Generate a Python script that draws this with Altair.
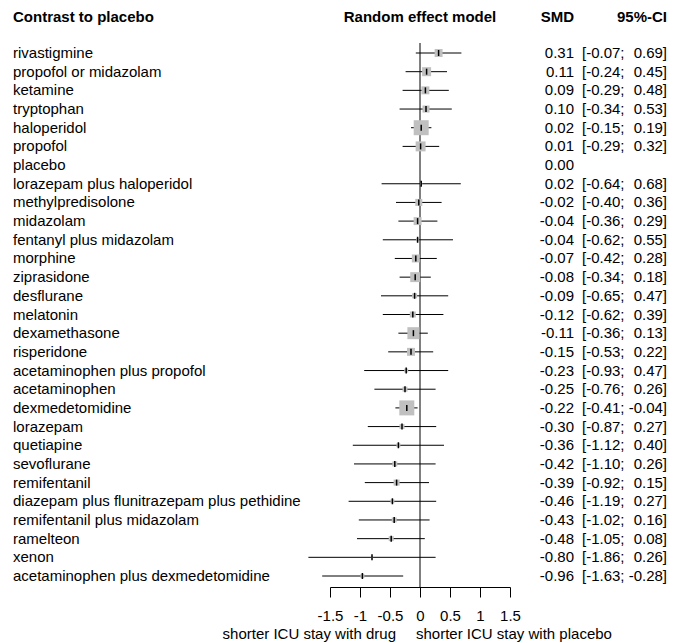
import altair as alt
import pandas as pd

labels = ["rivastigmine", "propofol or midazolam", "ketamine", "tryptophan", "haloperidol",
          "propofol", "placebo", "lorazepam plus haloperidol", "methylpredisolone", "midazolam",
          "fentanyl plus midazolam", "morphine", "ziprasidone", "desflurane", "melatonin",
          "dexamethasone", "risperidone", "acetaminophen plus propofol", "acetaminophen",
          "dexmedetomidine", "lorazepam", "quetiapine", "sevoflurane", "remifentanil",
          "diazepam plus flunitrazepam plus pethidine", "remifentanil plus midazolam",
          "ramelteon", "xenon", "acetaminophen plus dexmedetomidine"]
smd = [0.31, 0.11, 0.09, 0.10, 0.02, 0.01, 0.00, 0.02, -0.02, -0.04, -0.04, -0.07, -0.08, -0.09,
       -0.12, -0.11, -0.15, -0.23, -0.25, -0.22, -0.30, -0.36, -0.42, -0.39, -0.46, -0.43, -0.48,
       -0.80, -0.96]
lo = [-0.07, -0.24, -0.29, -0.34, -0.15, -0.29, None, -0.64, -0.40, -0.36, -0.62, -0.42, -0.34,
      -0.65, -0.62, -0.36, -0.53, -0.93, -0.76, -0.41, -0.87, -1.12, -1.10, -0.92, -1.19, -1.02,
      -1.05, -1.86, -1.63]
hi = [0.69, 0.45, 0.48, 0.53, 0.19, 0.32, None, 0.68, 0.36, 0.29, 0.55, 0.28, 0.18, 0.47, 0.39,
      0.13, 0.22, 0.47, 0.26, -0.04, 0.27, 0.40, 0.26, 0.15, 0.27, 0.16, 0.08, 0.26, -0.28]
# relative weight (square area), haloperidol = 100
weight = [28, 36, 28, 22, 100, 44, 0, 2, 22, 28, 4, 28, 44, 11, 16, 64, 28, 7, 11, 100, 11, 7,
          11, 16, 7, 11, 11, 2, 7]
tick_values = [-1.5, -1, -0.5, 0, 0.5, 1, 1.5]
headers = ["Contrast to placebo", "Random effect model", "SMD", "95%-CI"]
bottom_titles = ["shorter ICU stay with drug", "shorter ICU stay with placebo"]

df = pd.DataFrame({"row": list(range(len(labels))), "label": labels, "smd": smd,
                   "lo": lo, "hi": hi, "weight": weight})
df["smd_txt"] = [f"{v:.2f}" for v in smd]
df["lo_txt"] = [f"[{v:.2f};" if v is not None else "" for v in lo]
df["hi_txt"] = [f"{v:.2f}]" if v is not None else "" for v in hi]
dci = df[df["lo"].notna()].copy()

FONT = "Liberation Sans"
FS = 15

xs = alt.Scale(domain=[-1.5, 1.5], range=[322, 502])
ys = alt.Scale(domain=[0, 28], range=[45, 568])
ax = alt.Axis(values=tick_values, title=None, grid=False, domainColor="black", tickColor="black",
              tickSize=10, labelFontSize=FS, labelFont=FONT, labelColor="black", labelPadding=11,
              labelExpr="'' + datum.value", labelFlush=False, labelOverlap=False)
Y = alt.Y("row:Q", scale=ys, axis=None)

zero = alt.Chart(pd.DataFrame({"x": [0]})).mark_rule(color="black", strokeWidth=1).encode(
    x=alt.X("x:Q", scale=xs, axis=ax), y=alt.value(35), y2=alt.value(579))

ci = alt.Chart(dci).mark_rule(color="black", strokeWidth=1).encode(
    x=alt.X("lo:Q", scale=xs, axis=ax), x2="hi:Q", y=Y)

sq = alt.Chart(dci).mark_square(color="#c0c0c0", opacity=1, filled=True).encode(
    x=alt.X("smd:Q", scale=xs, axis=ax), y=Y,
    size=alt.Size("weight:Q", scale=alt.Scale(domain=[0, 100], range=[0, 225]), legend=None))

tk = alt.Chart(dci).mark_tick(orient="vertical", size=6, thickness=1.5, color="black", opacity=1).encode(
    x=alt.X("smd:Q", scale=xs, axis=ax), y=Y)

def txt(data, field, xpx, align, bold=False, y=None):
    return alt.Chart(data).mark_text(align=align, baseline="middle", font=FONT, fontSize=FS,
                                     color="black", fontWeight="bold" if bold else "normal").encode(
        text=f"{field}:N", x=alt.value(xpx), y=y if y is not None else Y)

lab = txt(df, "label", 5, "left")
smdt = txt(df, "smd_txt", 566, "right")
lot = txt(df, "lo_txt", 574, "left")
hit = txt(df, "hi_txt", 659, "right")

h1 = txt(pd.DataFrame({"t": [headers[0]]}), "t", 5, "left", True, alt.value(9))
h2 = txt(pd.DataFrame({"t": [headers[1]]}), "t", 412, "center", True, alt.value(9))
h3 = txt(pd.DataFrame({"t": [headers[2]]}), "t", 566, "right", True, alt.value(9))
h4 = txt(pd.DataFrame({"t": [headers[3]]}), "t", 659, "right", True, alt.value(9))
b1 = txt(pd.DataFrame({"t": [bottom_titles[0]]}), "t", 388, "right", False, alt.value(626))
b2 = txt(pd.DataFrame({"t": [bottom_titles[1]]}), "t", 408, "left", False, alt.value(626))

chart = alt.layer(zero, ci, sq, tk, lab, smdt, lot, hit, h1, h2, h3, h4, b1, b2).properties(
    width=670, height=579, autosize="none",
    padding={"left": 0, "right": 0, "top": 0, "bottom": 55}
).configure_view(stroke=None)

chart.save("out.html", embed_options={"renderer": "svg", "actions": False})
